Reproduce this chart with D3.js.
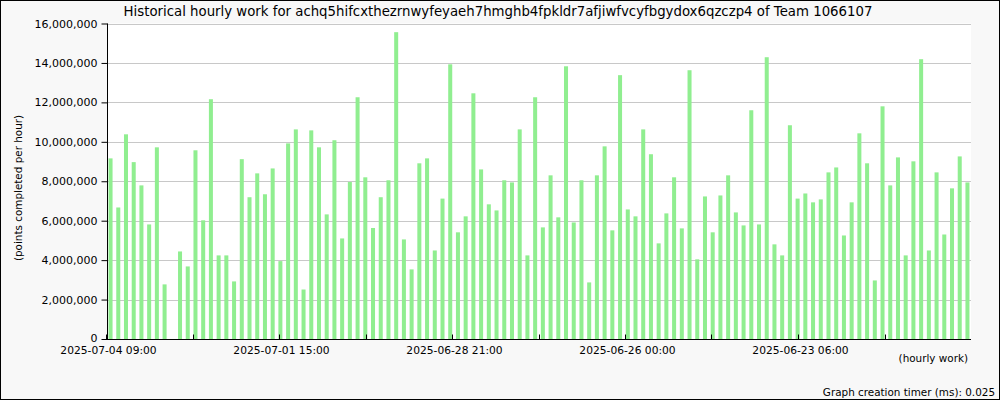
<!DOCTYPE html>
<html>
<head>
<meta charset="utf-8">
<script src="https://cdn.jsdelivr.net/npm/d3@7"></script>
<style>
  html, body { margin: 0; padding: 0; background: #fff; }
  svg text { font-family: "DejaVu Sans", sans-serif; fill: #000; }
</style>
</head>
<body>
<svg id="chart" width="1000" height="400"></svg>
<script>
// ---- data ----
const titleText = "Historical hourly work for achq5hifcxthezrnwyfeyaeh7hmghb4fpkldr7afjiwfvcyfbgydox6qzczp4 of Team 1066107";
const yTitle = "(points completed per hour)";
const xTitle = "(hourly work)";
const footer = "Graph creation timer (ms): 0.025";

// bar slots, newest first (3-hour steps)
const categories = d3.range(112).map(i => "slot " + i);

// points completed per hour, in millions
const values = [
  9.16, 6.67, 10.38, 8.97, 7.79, 5.81, 9.72, 2.77, 0, 4.44,
  3.68, 9.57, 6.02, 12.16, 4.24, 4.24, 2.92, 9.12, 7.19, 8.40,
  7.34, 8.65, 3.95, 9.92, 10.63, 2.51, 10.58, 9.72, 6.32, 10.08,
  5.10, 7.96, 12.26, 8.20, 5.63, 7.19, 8.05, 15.56, 5.05, 3.53,
  8.91, 9.16, 4.49, 7.12, 13.93, 5.41, 6.22, 12.46, 8.60, 6.83,
  6.52, 8.05, 7.94, 10.63, 4.24, 12.26, 5.66, 8.30, 6.17, 13.83,
  5.91, 8.05, 2.87, 8.30, 9.77, 5.51, 13.38, 6.57, 6.22, 10.63,
  9.37, 4.85, 6.37, 8.20, 5.61, 13.63, 4.04, 7.23, 5.41, 7.28,
  8.30, 6.42, 5.76, 11.60, 5.81, 14.29, 4.80, 4.24, 10.84, 7.12,
  7.38, 6.93, 7.08, 8.45, 8.70, 5.25, 6.93, 10.43, 8.91, 2.97,
  11.80, 7.79, 9.21, 4.24, 9.01, 14.19, 4.49, 8.45, 5.30, 7.64,
  9.26, 7.94
];

const yTicks = [0, 2e6, 4e6, 6e6, 8e6, 10e6, 12e6, 14e6, 16e6];
const xTickLabels = ["2025-07-04 09:00", "", "2025-07-01 15:00", "", "2025-06-28 21:00", "",
                     "2025-06-26 00:00", "", "2025-06-23 06:00", ""];

// ---- layout ----
const W = 1000, H = 400;
const plot = { left: 107, right: 971, top: 23.5, bottom: 339 };

const svg = d3.select("#chart");

svg.append("rect")
  .attr("x", 0.5).attr("y", 0.5).attr("width", W - 1).attr("height", H - 1)
  .attr("fill", "#f8f8f8").attr("stroke", "#000").attr("stroke-width", 1);

svg.append("rect")
  .attr("x", plot.left).attr("y", plot.top)
  .attr("width", plot.right - plot.left).attr("height", plot.bottom - plot.top)
  .attr("fill", "#fff");

const x = d3.scaleBand()
  .domain(categories)
  .range([plot.left, plot.right])
  .paddingInner(0.48)
  .paddingOuter(0.2);

const y = d3.scaleLinear()
  .domain([0, 16e6])
  .range([plot.bottom, plot.top]);

// gridlines
svg.append("g")
  .selectAll("line")
  .data(yTicks.filter(d => d > 0))
  .join("line")
  .attr("x1", plot.left).attr("x2", plot.right)
  .attr("y1", d => Math.round(y(d)) + 0.5).attr("y2", d => Math.round(y(d)) + 0.5)
  .attr("stroke", "#c8c8c8").attr("stroke-width", 1);

// bars
svg.append("g")
  .selectAll("rect")
  .data(values.map((v, i) => ({ c: categories[i], v: v * 1e6 })))
  .join("rect")
  .attr("x", d => x(d.c))
  .attr("width", x.bandwidth())
  .attr("y", d => y(d.v))
  .attr("height", d => y(0) - y(d.v))
  .attr("fill", "#90ee90");

// y axis
const yAxis = d3.axisLeft(y)
  .tickValues(yTicks)
  .tickSize(6)
  .tickPadding(4)
  .tickFormat(d3.format(","));
const gy = svg.append("g")
  .attr("transform", `translate(${plot.left + 0.5},0)`)
  .call(yAxis);
gy.select(".domain").attr("d", `M0,${plot.top}V${plot.bottom}`).attr("stroke", "#000");
gy.selectAll("text").attr("font-size", 11).attr("font-family", "DejaVu Sans");
gy.selectAll(".tick").filter(d => d === 0).select("text").attr("dy", "0.2em");

// x axis (time ticks, 10 equal divisions)
const xt = d3.scaleLinear().domain([0, 10]).range([106, 971]);
const xAxis = d3.axisBottom(xt)
  .tickValues(d3.range(0, 10))
  .tickSize(0)
  .tickPadding(7)
  .tickFormat(i => xTickLabels[i]);
const gx = svg.append("g")
  .attr("transform", `translate(0,${plot.bottom + 0.5})`)
  .call(xAxis);
gx.select(".domain").attr("d", `M${plot.left},0H${plot.right}`).attr("stroke", "#000");
gx.selectAll(".tick line").attr("y2", -5).attr("stroke", "#000");
gx.selectAll(".tick").attr("transform", d => `translate(${Math.round(xt(d)) + 0.5},0)`);
gx.selectAll("text").attr("font-size", 10.7).attr("font-family", "DejaVu Sans").attr("dx", 2);

// titles
svg.append("text")
  .attr("x", 498).attr("y", 16)
  .attr("text-anchor", "middle")
  .attr("font-size", 13.3)
  .text(titleText);

svg.append("text")
  .attr("transform", "translate(22,188) rotate(-90)")
  .attr("text-anchor", "middle")
  .attr("font-size", 10.4)
  .text(yTitle);

svg.append("text")
  .attr("x", 968).attr("y", 362)
  .attr("text-anchor", "end")
  .attr("font-size", 10.4)
  .text(xTitle);

svg.append("text")
  .attr("x", 995).attr("y", 396)
  .attr("text-anchor", "end")
  .attr("font-size", 10.4)
  .text(footer);
</script>
</body>
</html>
